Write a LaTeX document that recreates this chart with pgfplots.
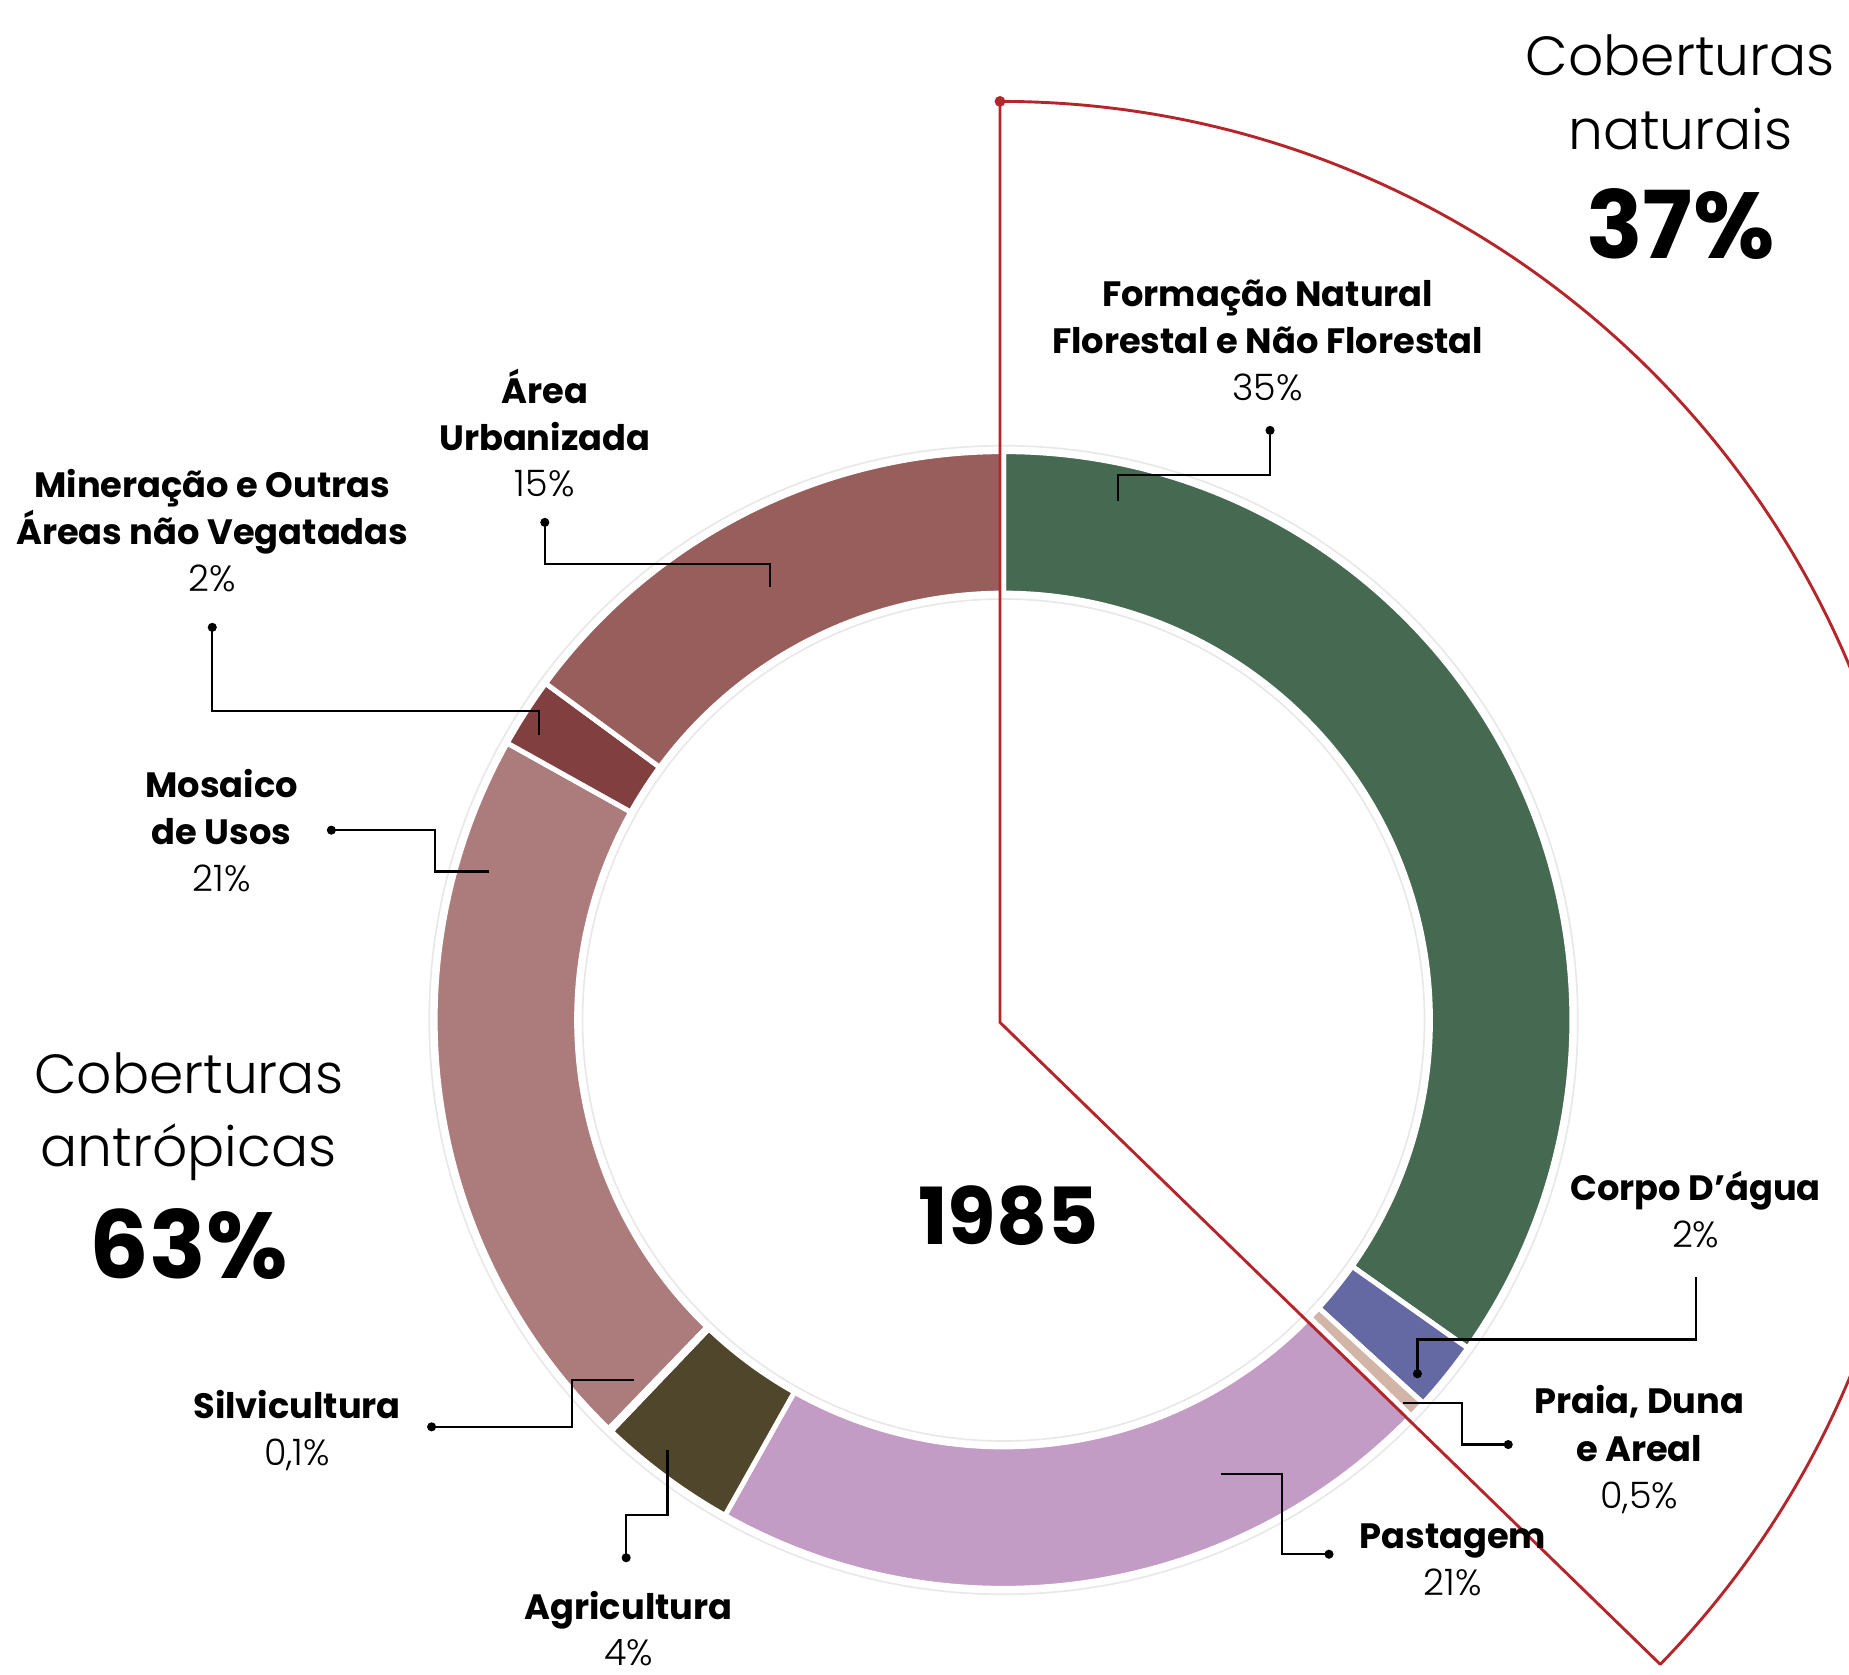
\documentclass[border=0pt]{standalone}
\usepackage{pgfplots}
\pgfplotsset{compat=1.18}
\usepackage{fontspec}
\setmainfont{Poppins}
\newfontfamily\lightfont{Poppins Light}
\usetikzlibrary{calc}

\definecolor{cForm}{HTML}{466952}
\definecolor{cAgua}{HTML}{6469A3}
\definecolor{cPraia}{HTML}{D3B5A7}
\definecolor{cPast}{HTML}{C39CC5}
\definecolor{cAgri}{HTML}{50462B}
\definecolor{cSilv}{HTML}{FFFFFF}
\definecolor{cMos}{HTML}{AB7C7B}
\definecolor{cMin}{HTML}{813F40}
\definecolor{cUrb}{HTML}{975E5B}
\definecolor{cRed}{HTML}{B5262B}

% shares (%), clockwise from the top
\def\vForm{35}
\def\vAgua{2}
\def\vPraia{0.5}
\def\vPast{21}
\def\vAgri{4}
\def\vSilv{0.1}
\def\vMos{21}
\def\vMin{2}
\def\vUrb{15}

\pgfmathsetmacro\tot{\vForm+\vAgua+\vPraia+\vPast+\vAgri+\vSilv+\vMos+\vMin+\vUrb}
\pgfmathsetmacro\kk{360/\tot}
\pgfmathsetmacro\aA{90}
\pgfmathsetmacro\aB{\aA-\vForm*\kk}
\pgfmathsetmacro\aC{\aB-\vAgua*\kk}
\pgfmathsetmacro\aD{\aC-\vPraia*\kk}
\pgfmathsetmacro\aE{\aD-\vPast*\kk}
\pgfmathsetmacro\aF{\aE-\vAgri*\kk}
\pgfmathsetmacro\aG{\aF-\vSilv*\kk}
\pgfmathsetmacro\aH{\aG-\vMos*\kk}
\pgfmathsetmacro\aI{\aH-\vMin*\kk}
\pgfmathsetmacro\aJ{\aI-\vUrb*\kk}

\def\ro{4.82cm}
\def\ri{3.62cm}
\newcommand\seg[3]{%
  \filldraw[fill=#3,draw=white,line width=1.2pt]
    ($(C)+(#1:\ro)$) arc[start angle=#1,end angle=#2,radius=\ro]
    -- ($(C)+(#2:\ri)$) arc[start angle=#2,end angle=#1,radius=\ri] -- cycle;}

\tikzset{
  lb/.style={anchor=base,font=\bfseries\fontsize{8.5}{10}\selectfont},
  lp/.style={anchor=base,font=\lightfont\fontsize{8.8}{10}\selectfont},
  big/.style={anchor=base,font=\lightfont\fontsize{13.3}{15}\selectfont},
  huge/.style={anchor=base,font=\bfseries\fontsize{22.6}{24}\selectfont},
  lead/.style={black,line width=0.55pt},
}
\newcommand\dotat[1]{\fill (axis cs:#1) circle[radius=1.1pt];}

\begin{document}
\begin{tikzpicture}
\begin{axis}[
  scale only axis, width=15.68cm, height=14.2cm,
  xmin=0, xmax=1568, ymin=0, ymax=1420,
  hide axis, clip=true, clip mode=global]
\coordinate (C) at (axis cs:851,555);
\coordinate (R) at (axis cs:848,553);
% faint guide rings
\draw[black!9,line width=0.4pt] (C) circle[radius=4.87cm];
\draw[black!9,line width=0.4pt] (C) circle[radius=3.57cm];
% segments
\seg{\aA}{\aB}{cForm}
\seg{\aB}{\aC}{cAgua}
\seg{\aC}{\aD}{cPraia}
\seg{\aD}{\aE}{cPast}
\seg{\aE}{\aF}{cAgri}
\seg{\aF}{\aG}{cSilv}
\seg{\aG}{\aH}{cMos}
\seg{\aH}{\aI}{cMin}
\seg{\aI}{\aJ}{cUrb}
% natural-cover wedge (Formação + Corpo d'água + Praia)
\draw[cRed,line width=0.7pt,line join=round] (R) -- ($(R)+(90:7.81cm)$)
  arc[start angle=90,end angle=\aD,radius=7.81cm] -- cycle;
\fill[cRed] ($(R)+(90:7.81cm)$) circle[radius=1.3pt];

% leader lines
\draw[lead] (axis cs:1077,1055) -- (axis cs:1077,1017) -- (axis cs:948,1017) -- (axis cs:948,995);
\dotat{1077,1055}
\draw[lead] (axis cs:462,977) -- (axis cs:462,942) -- (axis cs:653,942) -- (axis cs:653,922);
\dotat{462,977}
\draw[lead] (axis cs:180,888) -- (axis cs:180,817) -- (axis cs:457,817) -- (axis cs:457,797);
\dotat{180,888}
\draw[lead] (axis cs:281,716) -- (axis cs:369,716) -- (axis cs:369,681) -- (axis cs:415,681);
\dotat{281,716}
\draw[lead] (axis cs:366,210) -- (axis cs:485,210) -- (axis cs:485,250) -- (axis cs:538,250);
\dotat{366,210}
\draw[lead] (axis cs:531,99) -- (axis cs:531,135) -- (axis cs:566,135) -- (axis cs:566,190);
\dotat{531,99}
\draw[lead] (axis cs:1127,102) -- (axis cs:1087,102) -- (axis cs:1087,170) -- (axis cs:1035,170);
\dotat{1127,102}
\draw[lead] (axis cs:1279,195) -- (axis cs:1240,195) -- (axis cs:1240,230) -- (axis cs:1190,230);
\dotat{1279,195}
\draw[lead] (axis cs:1202,255) -- (axis cs:1202,284) -- (axis cs:1438,284) -- (axis cs:1438,337);
\dotat{1202,255}

% labels
\node[lb] at (axis cs:1075,1160) {Formação Natural};
\node[lb] at (axis cs:1075,1120) {Florestal e Não Florestal};
\node[lp] at (axis cs:1075,1080) {35\%};
\node[lb] at (axis cs:462,1078) {Área};
\node[lb] at (axis cs:462,1038) {Urbanizada};
\node[lp] at (axis cs:462,999) {15\%};
\node[lb] at (axis cs:180,998) {Mineração e Outras};
\node[lb] at (axis cs:180,958) {Áreas não Vegatadas};
\node[lp] at (axis cs:180,918) {2\%};
\node[lb] at (axis cs:188,744) {Mosaico};
\node[lb] at (axis cs:188,704) {de Usos};
\node[lp] at (axis cs:188,664) {21\%};
\node[lb] at (axis cs:252,217) {Silvicultura};
\node[lp] at (axis cs:252,177) {0,1\%};
\node[lb] at (axis cs:533,47) {Agricultura};
\node[lp] at (axis cs:533,8) {4\%};
\node[lb] at (axis cs:1232,107) {Pastagem};
\node[lp] at (axis cs:1232,67) {21\%};
\node[lb] at (axis cs:1390,221) {Praia, Duna};
\node[lb] at (axis cs:1390,181) {e Areal};
\node[lp] at (axis cs:1390,141) {0,5\%};
\node[lb] at (axis cs:1438,402) {Corpo D’água};
\node[lp] at (axis cs:1438,362) {2\%};

\node[big] at (axis cs:160,493) {Coberturas};
\node[big] at (axis cs:160,431) {antrópicas};
\node[huge] at (axis cs:160,336) {63\%};
\node[big] at (axis cs:1425,1356) {Coberturas};
\node[big] at (axis cs:1425,1293) {naturais};
\node[huge] at (axis cs:1425,1201) {37\%};
\node[anchor=base,font=\bfseries\fontsize{19}{21}\selectfont] at (axis cs:855,365) {1985};
\end{axis}
\pgfresetboundingbox
\useasboundingbox (0,0) rectangle (15.68cm,14.2cm);
\end{tikzpicture}
\end{document}
